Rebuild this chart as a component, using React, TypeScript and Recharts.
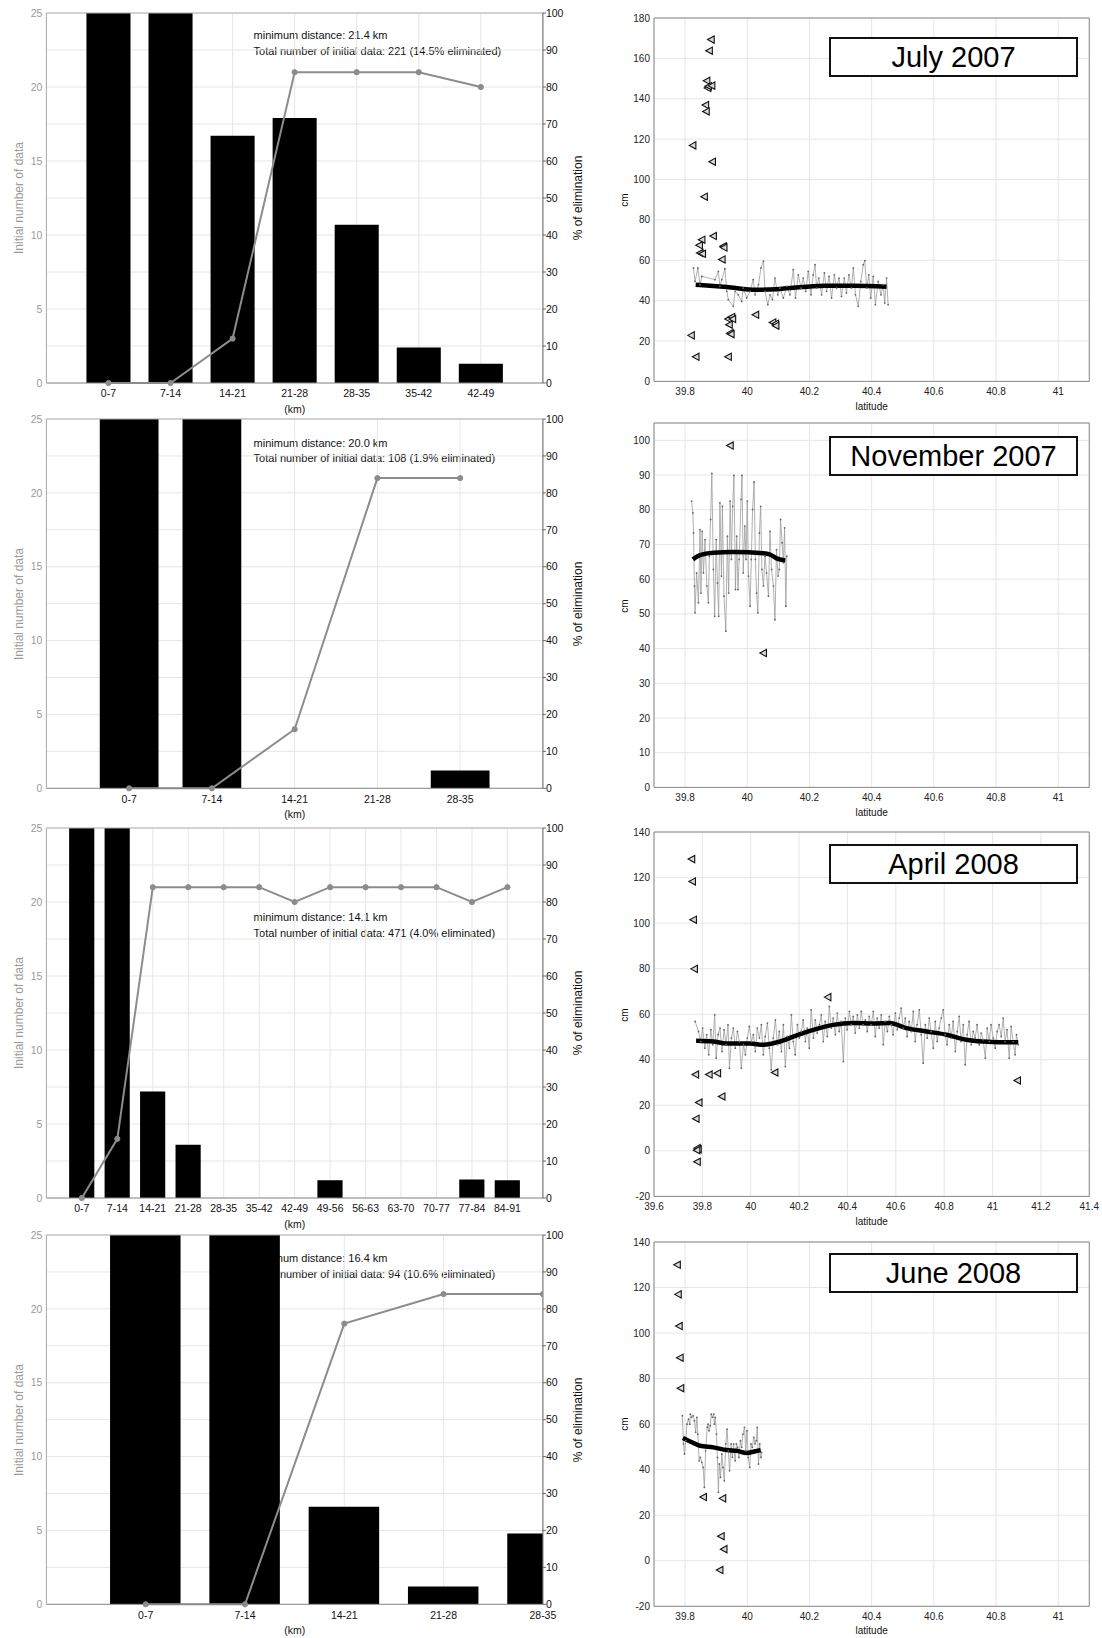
import React from "react";
import {
  ComposedChart,
  Bar,
  Line,
  Scatter,
  XAxis,
  YAxis,
  CartesianGrid,
  ReferenceLine,
} from "recharts";

const FONT = "'Liberation Sans', Arial, Helvetica, sans-serif";

// ---------- left column: distance bins ----------
const binsJul = ["0-7", "7-14", "14-21", "21-28", "28-35", "35-42", "42-49"];
const countsJul = [25, 25, 16.7, 17.9, 10.7, 2.4, 1.3]; // first two bars run off the top
const elimJul = [0, 0, 12, 84, 84, 84, 80];

const binsNov = ["0-7", "7-14", "14-21", "21-28", "28-35"];
const countsNov = [25, 25, 0, 0, 1.2];
const elimNov = [0, 0, 16, 84, 84];

const binsApr = [
  "0-7", "7-14", "14-21", "21-28", "28-35", "35-42", "42-49",
  "49-56", "56-63", "63-70", "70-77", "77-84", "84-91",
];
const countsApr = [25, 25, 7.2, 3.6, 0, 0, 0, 1.2, 0, 0, 0, 1.25, 1.2];
const elimApr = [0, 16, 84, 84, 84, 84, 80, 84, 84, 84, 84, 80, 84];

const binsJun = ["0-7", "7-14", "14-21", "21-28", "28-35"];
const countsJun = [25, 25, 6.6, 1.2, 4.8];
const elimJun = [0, 0, 76, 84, 84];

const countTicks = [0, 5, 10, 15, 20, 25];
const elimTicks = [0, 10, 20, 30, 40, 50, 60, 70, 80, 90, 100];

// ---------- right column: along-track profiles [latitude, cm] ----------
type Pt = [number, number];

const trackJul: Pt[] = [
  [39.827, 56.2], [39.832, 49.5], [39.841, 56.2], [39.848, 47.9], [39.854, 52.0],
  [39.896, 50.4], [39.907, 54.5], [39.912, 47.1], [39.918, 50.4], [39.928, 55.8],
  [39.934, 44.6], [39.939, 40.5], [39.955, 37.2], [39.961, 44.6], [39.971, 42.9],
  [39.982, 39.6], [39.987, 46.2], [39.998, 41.3], [40.009, 44.6], [40.019, 50.4],
  [40.025, 42.9], [40.036, 47.9], [40.044, 56.2], [40.052, 59.5], [40.057, 44.6],
  [40.066, 38.0], [40.073, 42.9], [40.081, 40.5], [40.089, 51.2], [40.098, 42.9],
  [40.105, 46.2], [40.116, 41.3], [40.127, 47.1], [40.137, 42.9], [40.148, 55.3],
  [40.155, 41.3], [40.164, 52.8], [40.173, 46.2], [40.18, 51.2], [40.188, 44.6],
  [40.196, 54.5], [40.205, 42.9], [40.212, 52.8], [40.218, 57.8], [40.223, 46.2],
  [40.23, 51.2], [40.239, 42.9], [40.248, 53.7], [40.255, 44.6], [40.263, 52.0],
  [40.271, 41.3], [40.28, 52.8], [40.287, 46.2], [40.295, 51.2], [40.303, 42.1],
  [40.312, 51.2], [40.319, 43.8], [40.327, 52.8], [40.335, 46.2], [40.341, 56.2],
  [40.348, 42.9], [40.357, 37.2], [40.365, 49.5], [40.373, 57.8], [40.378, 59.8],
  [40.384, 46.2], [40.391, 52.8], [40.397, 41.3], [40.405, 52.0], [40.412, 38.0],
  [40.421, 49.5], [40.43, 42.9], [40.437, 47.9], [40.442, 38.8], [40.448, 51.2],
  [40.453, 38.0],
];
const fitJul: Pt[] = [
  [39.834, 47.9], [39.934, 46.7], [40.03, 45.4], [40.094, 45.7], [40.169, 46.6],
  [40.255, 47.4], [40.341, 47.4], [40.448, 46.9],
];
const outJul: Pt[] = [
  [39.884, 169.3], [39.878, 163.8], [39.87, 148.9], [39.873, 145.3], [39.875, 146.2],
  [39.886, 146.5], [39.866, 136.9], [39.868, 133.7], [39.825, 116.9], [39.888, 108.8],
  [39.862, 91.5], [39.891, 72.0], [39.854, 70.2], [39.846, 67.4], [39.923, 66.9],
  [39.925, 66.3], [39.848, 63.6], [39.856, 63.2], [39.919, 60.4], [40.027, 33.0],
  [39.939, 30.9], [39.95, 31.9], [39.953, 30.9], [39.942, 28.1], [40.082, 29.2],
  [40.091, 28.6], [40.092, 27.6], [39.945, 23.9], [39.948, 23.4], [39.82, 22.8],
  [39.835, 12.2], [39.939, 12.2],
];

const trackNov: Pt[] = [
  [39.821, 82.5], [39.825, 79.1], [39.827, 73.3], [39.83, 58.0], [39.832, 50.3],
  [39.837, 61.8], [39.843, 53.2], [39.848, 74.3], [39.851, 56.0], [39.855, 73.8],
  [39.859, 61.8], [39.864, 71.4], [39.87, 58.0], [39.875, 53.2], [39.878, 66.6],
  [39.882, 77.2], [39.886, 90.5], [39.891, 62.8], [39.895, 49.3], [39.9, 71.4],
  [39.904, 58.9], [39.908, 49.3], [39.912, 82.0], [39.917, 60.9], [39.92, 81.0],
  [39.925, 55.1], [39.931, 45.0], [39.936, 72.4], [39.94, 56.0], [39.945, 82.5],
  [39.949, 65.7], [39.953, 81.0], [39.957, 89.9], [39.962, 57.0], [39.966, 72.4],
  [39.97, 57.0], [39.974, 65.7], [39.98, 83.0], [39.983, 89.9], [39.987, 61.8],
  [39.992, 75.3], [39.996, 65.7], [40.0, 82.5], [40.004, 60.9], [40.009, 52.2],
  [40.013, 65.7], [40.017, 80.1], [40.022, 88.0], [40.026, 65.7], [40.03, 56.0],
  [40.034, 50.3], [40.039, 73.3], [40.043, 81.0], [40.047, 62.8], [40.052, 58.0],
  [40.057, 66.6], [40.062, 61.8], [40.068, 55.1], [40.073, 73.8], [40.078, 62.8],
  [40.084, 58.0], [40.089, 48.3], [40.094, 68.5], [40.099, 60.9], [40.103, 62.8],
  [40.107, 77.2], [40.112, 70.5], [40.116, 64.7], [40.12, 74.8], [40.124, 52.2],
  [40.127, 66.6],
];
const fitNov: Pt[] = [
  [39.825, 65.7], [39.848, 66.9], [39.891, 67.6], [39.955, 67.8], [40.052, 67.5],
  [40.073, 67.1], [40.094, 66.0], [40.122, 65.4],
];
const outNov: Pt[] = [[39.945, 98.5], [40.052, 38.7]];

const trackApr: Pt[] = [
  [39.77, 56.8], [39.784, 52.4], [39.793, 48.0], [39.801, 53.9], [39.81, 45.1],
  [39.818, 51.0], [39.826, 42.2], [39.835, 53.2], [39.843, 46.6], [39.851, 59.7],
  [39.857, 40.7], [39.865, 51.0], [39.873, 53.9], [39.881, 43.6], [39.89, 53.2],
  [39.898, 46.6], [39.906, 55.4], [39.912, 36.3], [39.92, 49.5], [39.928, 53.9],
  [39.936, 45.1], [39.945, 52.4], [39.953, 48.0], [39.961, 36.3], [39.97, 46.6],
  [39.978, 42.2], [39.986, 49.5], [39.994, 54.6], [40.003, 48.0], [40.011, 51.0],
  [40.019, 43.6], [40.027, 53.9], [40.036, 49.5], [40.044, 55.4], [40.052, 42.2],
  [40.06, 50.2], [40.069, 56.1], [40.077, 45.1], [40.085, 35.6], [40.093, 49.5],
  [40.102, 57.5], [40.11, 46.6], [40.118, 52.4], [40.127, 43.6], [40.135, 55.4],
  [40.143, 37.0], [40.151, 50.2], [40.16, 45.1], [40.168, 59.7], [40.176, 48.0],
  [40.184, 42.2], [40.193, 55.4], [40.201, 49.5], [40.209, 52.4], [40.217, 57.5],
  [40.226, 48.0], [40.234, 53.9], [40.242, 45.1], [40.25, 61.9], [40.259, 49.5],
  [40.267, 57.5], [40.275, 51.7], [40.284, 55.4], [40.292, 59.7], [40.3, 48.0],
  [40.308, 56.8], [40.317, 50.2], [40.325, 63.4], [40.333, 53.9], [40.341, 58.3],
  [40.35, 51.0], [40.358, 60.5], [40.366, 52.4], [40.374, 56.8], [40.383, 39.2],
  [40.391, 58.3], [40.399, 53.2], [40.408, 61.2], [40.416, 55.4], [40.424, 59.0],
  [40.432, 51.7], [40.441, 59.7], [40.449, 53.9], [40.457, 61.2], [40.465, 55.4],
  [40.474, 57.5], [40.482, 52.4], [40.49, 59.0], [40.498, 55.4], [40.507, 61.2],
  [40.515, 50.2], [40.523, 58.3], [40.531, 53.9], [40.54, 59.7], [40.548, 46.6],
  [40.556, 56.8], [40.565, 52.4], [40.573, 59.0], [40.581, 55.4], [40.589, 51.0],
  [40.598, 60.5], [40.606, 53.2], [40.614, 58.3], [40.622, 62.7], [40.631, 53.9],
  [40.639, 58.3], [40.647, 50.2], [40.655, 56.8], [40.664, 52.4], [40.672, 61.2],
  [40.68, 48.0], [40.688, 55.4], [40.697, 61.9], [40.705, 51.0], [40.713, 38.5],
  [40.722, 55.4], [40.73, 49.5], [40.738, 58.3], [40.746, 52.4], [40.755, 45.1],
  [40.763, 56.8], [40.771, 48.0], [40.779, 53.9], [40.788, 58.3], [40.796, 61.9],
  [40.804, 51.0], [40.812, 46.6], [40.821, 55.4], [40.829, 49.5], [40.837, 56.8],
  [40.846, 43.6], [40.854, 52.4], [40.862, 59.0], [40.87, 48.0], [40.879, 55.4],
  [40.887, 37.8], [40.895, 51.0], [40.903, 56.8], [40.912, 46.6], [40.92, 52.4],
  [40.928, 49.5], [40.936, 55.4], [40.945, 46.6], [40.953, 51.7], [40.961, 48.8],
  [40.97, 40.7], [40.978, 53.9], [40.986, 48.0], [40.994, 55.4], [41.003, 49.5],
  [41.011, 45.1], [41.019, 52.4], [41.027, 55.4], [41.036, 50.2], [41.044, 58.3],
  [41.052, 48.0], [41.06, 53.2], [41.069, 40.7], [41.077, 54.6], [41.085, 48.0],
  [41.093, 42.2], [41.099, 51.0], [41.106, 46.6],
];
const fitApr: Pt[] = [
  [39.774, 48.3], [39.845, 48.0], [39.9, 47.1], [39.997, 47.1], [40.052, 46.6],
  [40.121, 48.0], [40.19, 50.7], [40.259, 53.1], [40.341, 55.3], [40.424, 56.1],
  [40.507, 55.9], [40.575, 56.1], [40.644, 53.9], [40.727, 52.4], [40.81, 51.0],
  [40.892, 48.8], [40.961, 48.0], [41.03, 47.7], [41.106, 47.7],
];
const outApr: Pt[] = [
  [39.756, 128.1], [39.759, 118.3], [39.763, 101.5], [39.767, 79.9], [40.319, 67.5],
  [39.772, 33.5], [39.828, 33.5], [39.863, 34.1], [40.1, 34.4], [41.103, 30.9],
  [39.881, 23.9], [39.786, 21.2], [39.774, 14.1], [39.779, 1.2], [39.783, 0.7],
  [39.777, 0.3], [39.779, -4.8],
];

const trackJun: Pt[] = [
  [39.791, 63.7], [39.795, 51.3], [39.798, 46.9], [39.802, 52.7], [39.806, 60.0],
  [39.811, 62.2], [39.815, 60.0], [39.817, 64.4], [39.821, 63.0], [39.826, 63.7],
  [39.83, 61.5], [39.834, 56.4], [39.838, 63.0], [39.841, 55.6], [39.845, 43.9],
  [39.849, 45.4], [39.854, 43.2], [39.858, 41.0], [39.862, 32.2], [39.866, 48.3],
  [39.871, 58.6], [39.874, 60.0], [39.877, 57.1], [39.881, 59.3], [39.884, 64.4],
  [39.888, 63.0], [39.892, 64.4], [39.894, 60.0], [39.897, 63.0], [39.901, 55.6],
  [39.904, 45.4], [39.907, 30.0], [39.91, 42.5], [39.914, 36.6], [39.918, 46.9],
  [39.922, 41.0], [39.926, 35.1], [39.931, 51.3], [39.935, 57.8], [39.939, 48.3],
  [39.943, 39.5], [39.948, 51.3], [39.952, 45.4], [39.956, 51.3], [39.961, 43.9],
  [39.965, 51.3], [39.969, 49.8], [39.973, 45.4], [39.978, 52.7], [39.982, 49.8],
  [39.986, 55.6], [39.991, 58.6], [39.995, 48.3], [39.999, 57.1], [40.003, 45.4],
  [40.008, 41.0], [40.012, 51.3], [40.016, 49.8], [40.021, 54.2], [40.025, 51.3],
  [40.029, 52.7], [40.032, 58.6], [40.036, 42.5], [40.04, 51.3], [40.044, 45.4],
  [40.046, 47.6],
];
const fitJun: Pt[] = [
  [39.793, 53.9], [39.816, 52.4], [39.848, 50.5], [39.891, 49.8], [39.934, 48.6],
  [39.966, 48.3], [39.998, 47.3], [40.019, 47.9], [40.043, 48.6],
];
const outJun: Pt[] = [
  [39.775, 130.0], [39.778, 117.0], [39.781, 103.1], [39.784, 89.2], [39.786, 75.8],
  [39.859, 28.0], [39.921, 27.4], [39.916, 10.8], [39.925, 5.1], [39.912, -4.1],
];

const latTicks = [39.8, 40, 40.2, 40.4, 40.6, 40.8, 41];
const latTicksWide = [39.6, 39.8, 40, 40.2, 40.4, 40.6, 40.8, 41, 41.2, 41.4];
const cmTicks180 = [0, 20, 40, 60, 80, 100, 120, 140, 160, 180];
const cmTicks100 = [0, 10, 20, 30, 40, 50, 60, 70, 80, 90, 100];
const cmTicks140 = [-20, 0, 20, 40, 60, 80, 100, 120, 140];

// ---------- geometry ----------
const HL = 46.4; // histogram plot left
const HR = 542.9; // histogram plot right
const HW = 600;
const TL = 654; // track plot left
const TR = 1089.3; // track plot right

function Txt({ x, y, size, color = "#111", rotate = false, start = false, children }: any) {
  return (
    <div
      style={{
        position: "absolute",
        left: x,
        top: y,
        transform: `translate(${start ? "0" : "-50%"}, -50%)${rotate ? " rotate(-90deg)" : ""}`,
        fontSize: size,
        color,
        whiteSpace: "nowrap",
        lineHeight: 1,
      }}
    >
      {children}
    </div>
  );
}

function HistPanel({ top, bottom, bins, counts, elim, xMax }: any) {
  const rows = bins.map((b: string, i: number) => ({ x: i + 1, n: counts[i], p: elim[i] }));
  const ticks = bins.map((_: string, i: number) => i + 1);
  const slot = (HR - HL) / xMax;
  const h = bottom - top;
  return (
    <div style={{ position: "absolute", left: 0, top: top - 10 }}>
      <ComposedChart
        width={HW}
        height={h + 50}
        data={rows}
        margin={{ top: 10, right: HW - HR - 40, bottom: 0, left: HL - 40 }}
      >
        <CartesianGrid yAxisId="r" stroke="#e6e6e6" />
        <XAxis
          type="number"
          dataKey="x"
          domain={[0, xMax]}
          ticks={ticks}
          interval={0}
          allowDataOverflow
          height={40}
          tickSize={0}
          tickMargin={7}
          tickFormatter={(v: number) => bins[Math.round(v) - 1] ?? ""}
          axisLine={{ stroke: "#8a8a8a" }}
          tick={{ fill: "#111", fontSize: 10.5 }}
        />
        <YAxis
          yAxisId="l"
          type="number"
          domain={[0, 25]}
          ticks={countTicks}
          interval={0}
          allowDataOverflow
          width={40}
          tickSize={0}
          tickMargin={4}
          axisLine={{ stroke: "#aaa" }}
          tick={{ fill: "#9a9a9a", fontSize: 10.5 }}
        />
        <YAxis
          yAxisId="r"
          orientation="right"
          type="number"
          domain={[0, 100]}
          ticks={elimTicks}
          interval={0}
          width={40}
          tickSize={3}
          tickMargin={0}
          axisLine={{ stroke: "#666" }}
          tickLine={{ stroke: "#666" }}
          tick={{ fill: "#111", fontSize: 10.5 }}
        />
        <ReferenceLine yAxisId="l" y={25} stroke="#b0b0b0" />
        <Bar
          yAxisId="l"
          dataKey="n"
          fill="#000"
          barSize={slot * 0.71}
          isAnimationActive={false}
        />
        <Line
          yAxisId="r"
          dataKey="p"
          type="linear"
          stroke="#8c8c8c"
          strokeWidth={2}
          dot={{ r: 2.6, fill: "#8c8c8c", stroke: "#8c8c8c", strokeWidth: 1 }}
          activeDot={false}
          isAnimationActive={false}
        />
      </ComposedChart>
    </div>
  );
}

const Tri = (p: any) => {
  const { cx, cy } = p;
  if (cx == null || cy == null) return <g />;
  return (
    <path
      d={`M${cx - 3.6},${cy}L${cx + 3},${cy - 3.6}L${cx + 3},${cy + 3.6}Z`}
      fill="#d8d8d8"
      stroke="#111"
      strokeWidth={1.1}
    />
  );
};

const toRows = (pts: Pt[]) => pts.map(([lat, cm]) => ({ lat, cm }));

function TrackPanel({ top, bottom, xDomain, xTicks, yDomain, yTicks, track, fit, out }: any) {
  const h = bottom - top;
  return (
    <div style={{ position: "absolute", left: 600, top: top - 10 }}>
      <ComposedChart
        width={502}
        height={h + 50}
        margin={{ top: 10, right: 502 - (TR - 600), bottom: 0, left: TL - 600 - 40 }}
      >
        <CartesianGrid stroke="#e6e6e6" />
        <XAxis
          type="number"
          dataKey="lat"
          domain={xDomain}
          ticks={xTicks}
          interval={0}
          allowDataOverflow
          height={40}
          tickSize={0}
          tickMargin={7}
          tickFormatter={(v: number) => String(Math.round(v * 10) / 10)}
          axisLine={{ stroke: "#8a8a8a" }}
          tick={{ fill: "#222", fontSize: 10 }}
        />
        <YAxis
          type="number"
          domain={yDomain}
          ticks={yTicks}
          interval={0}
          allowDataOverflow
          width={40}
          tickSize={0}
          tickMargin={4}
          axisLine={{ stroke: "#8a8a8a" }}
          tick={{ fill: "#222", fontSize: 10 }}
        />
        <ReferenceLine y={yDomain[1]} stroke="#8a8a8a" />
        <ReferenceLine x={xDomain[1]} stroke="#8a8a8a" />
        <Line
          data={toRows(track)}
          dataKey="cm"
          type="linear"
          stroke="#9c9c9c"
          strokeWidth={0.8}
          dot={{ r: 0.9, fill: "#666", stroke: "none" }}
          activeDot={false}
          isAnimationActive={false}
        />
        <Line
          data={toRows(fit)}
          dataKey="cm"
          type="monotone"
          stroke="#000"
          strokeWidth={4.5}
          dot={false}
          activeDot={false}
          isAnimationActive={false}
        />
        <Scatter data={toRows(out)} dataKey="cm" shape={Tri} isAnimationActive={false} />
      </ComposedChart>
    </div>
  );
}

function TitleBox({ top, text }: any) {
  return (
    <div
      style={{
        position: "absolute",
        left: 829.3,
        top,
        width: 248.4,
        height: 40,
        boxSizing: "border-box",
        border: "2px solid #111",
        background: "#fff",
        display: "flex",
        alignItems: "center",
        justifyContent: "center",
        fontSize: 29,
        color: "#000",
        lineHeight: "36px",
      }}
    >
      {text}
    </div>
  );
}

const histLayout = [
  { top: 12.7, bottom: 382.7, bins: binsJul, counts: countsJul, elim: elimJul, xMax: 8,
    note: ["minimum distance: 21.4 km", "Total number of initial data: 221 (14.5% eliminated)"], noteY: 35 },
  { top: 419, bottom: 788.3, bins: binsNov, counts: countsNov, elim: elimNov, xMax: 6,
    note: ["minimum distance: 20.0 km", "Total number of initial data: 108 (1.9% eliminated)"], noteY: 442.7 },
  { top: 827.7, bottom: 1197.7, bins: binsApr, counts: countsApr, elim: elimApr, xMax: 14,
    note: ["minimum distance: 14.1 km", "Total number of initial data: 471 (4.0% eliminated)"], noteY: 917 },
  { top: 1235, bottom: 1604.3, bins: binsJun, counts: countsJun, elim: elimJun, xMax: 5,
    note: ["minimum distance: 16.4 km", "Total number of initial data: 94 (10.6% eliminated)"], noteY: 1258.3 },
];

const trackLayout = [
  { top: 18.3, bottom: 381.7, xDomain: [39.7, 41.1], xTicks: latTicks, yDomain: [0, 180], yTicks: cmTicks180,
    track: trackJul, fit: fitJul, out: outJul, title: "July 2007", boxTop: 37.3 },
  { top: 423.3, bottom: 787.7, xDomain: [39.7, 41.1], xTicks: latTicks, yDomain: [0, 105], yTicks: cmTicks100,
    track: trackNov, fit: fitNov, out: outNov, title: "November 2007", boxTop: 435.7 },
  { top: 832.3, bottom: 1196.7, xDomain: [39.6, 41.4], xTicks: latTicksWide, yDomain: [-20, 140], yTicks: cmTicks140,
    track: trackApr, fit: fitApr, out: outApr, title: "April 2008", boxTop: 844.3 },
  { top: 1241.7, bottom: 1606, xDomain: [39.7, 41.1], xTicks: latTicks, yDomain: [-20, 140], yTicks: cmTicks140,
    track: trackJun, fit: fitJun, out: outJun, title: "June 2008", boxTop: 1252.7 },
];

export default function App() {
  return (
    <div
      style={{
        position: "absolute",
        left: 0,
        top: 0,
        width: 1102,
        height: 1638,
        background: "#fff",
        fontFamily: FONT,
        overflow: "hidden",
      }}
    >
      {/* annotations sit under the bars (the June one is partly hidden) */}
      {histLayout.map((p, i) => (
        <React.Fragment key={`n${i}`}>
          <Txt x={253.6} y={p.noteY} size={11} start>{p.note[0]}</Txt>
          <Txt x={253.6} y={p.noteY + 15.5} size={11} start>{p.note[1]}</Txt>
        </React.Fragment>
      ))}

      {histLayout.map((p, i) => (
        <HistPanel key={`h${i}`} {...p} />
      ))}
      {trackLayout.map((p, i) => (
        <TrackPanel key={`t${i}`} {...p} />
      ))}

      {histLayout.map((p, i) => (
        <React.Fragment key={`hl${i}`}>
          <Txt x={18.6} y={(p.top + p.bottom) / 2} size={12} color="#9a9a9a" rotate>
            Initial number of data
          </Txt>
          <Txt x={578} y={(p.top + p.bottom) / 2} size={12} rotate>
            % of elimination
          </Txt>
          <Txt x={(HL + HR) / 2} y={p.bottom + 26} size={10.5}>
            (km)
          </Txt>
        </React.Fragment>
      ))}

      {trackLayout.map((p, i) => (
        <React.Fragment key={`tl${i}`}>
          <Txt x={625} y={(p.top + p.bottom) / 2} size={10} rotate>
            cm
          </Txt>
          <Txt x={(TL + TR) / 2} y={p.bottom + 25} size={10}>
            latitude
          </Txt>
          <TitleBox top={p.boxTop} text={p.title} />
        </React.Fragment>
      ))}
    </div>
  );
}
